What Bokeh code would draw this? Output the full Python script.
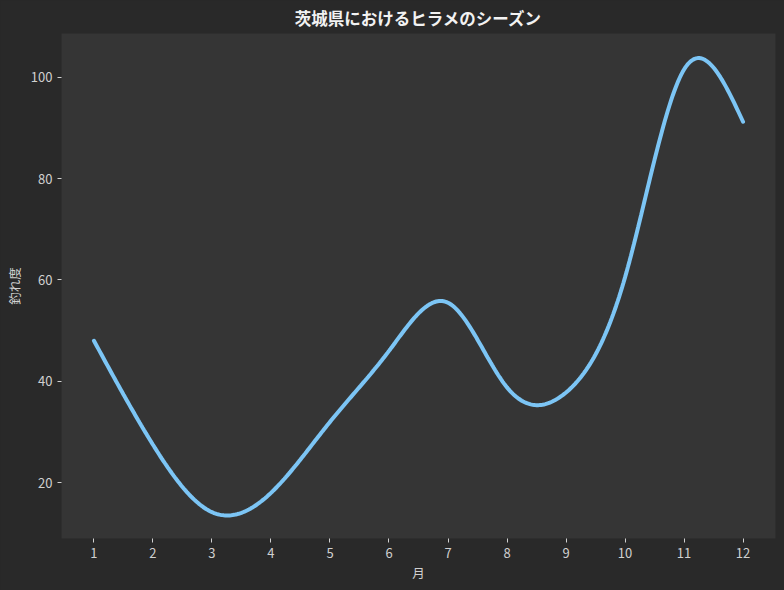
import numpy as np
from bokeh.plotting import figure
from bokeh.models import Range1d, FixedTicker, Title
from bokeh.embed import file_html
from bokeh.resources import INLINE

# ---- data ----
months = [1, 2, 3, 4, 5, 6, 7, 8, 9, 10, 11, 12]
catch_index = [48, 27.5, 14.2, 18, 32, 46, 55.5, 38.8, 37.8, 60.5, 101.5, 91.2]
x_ticks = [1, 2, 3, 4, 5, 6, 7, 8, 9, 10, 11, 12]
y_ticks = [20, 40, 60, 80, 100]
title_text = "茨城県におけるヒラメのシーズン"
x_label = "月"
y_label = "釣れ度"


def smooth_curve(xs, ys, per_seg=40):
    """Natural cubic spline through the data points (rendering only)."""
    x = np.asarray(xs, float)
    y = np.asarray(ys, float)
    n = len(x)
    h = np.diff(x)
    A = np.zeros((n, n))
    b = np.zeros(n)
    A[0, 0] = 1.0
    A[-1, -1] = 1.0
    for i in range(1, n - 1):
        A[i, i - 1] = h[i - 1]
        A[i, i] = 2 * (h[i - 1] + h[i])
        A[i, i + 1] = h[i]
        b[i] = 6 * ((y[i + 1] - y[i]) / h[i] - (y[i] - y[i - 1]) / h[i - 1])
    M = np.linalg.solve(A, b)
    px, py = [], []
    for i in range(n - 1):
        t = np.linspace(0, h[i], per_seg, endpoint=(i == n - 2))
        hi = h[i]
        s = (M[i] * (hi - t) ** 3 / (6 * hi) + M[i + 1] * t ** 3 / (6 * hi)
             + (y[i] / hi - M[i] * hi / 6) * (hi - t)
             + (y[i + 1] / hi - M[i + 1] * hi / 6) * t)
        px.extend(x[i] + t)
        py.extend(s)
    return px, py


cx, cy = smooth_curve(months, catch_index)

BG = "#292929"
PANEL = "#353535"
TXT = "#d0d0d0"
FONT = "Noto Sans CJK JP"

p = figure(width=784, height=590, output_backend="svg", toolbar_location=None,
           x_range=Range1d(0.45, 12.55), y_range=Range1d(9.0, 108.6),
           min_border_left=61, min_border_right=9, min_border_top=0, min_border_bottom=52)

p.title = Title(text=title_text, align="center", text_color="#f2f2f2",
                text_font=FONT, text_font_size="16.5px", text_font_style="bold",
                standoff=7, offset=0)

p.background_fill_color = PANEL
p.border_fill_color = BG
p.outline_line_color = None
p.xgrid.grid_line_color = None
p.ygrid.grid_line_color = None

for ax in (p.xaxis[0], p.yaxis[0]):
    ax.axis_line_color = None
    ax.major_tick_line_color = TXT
    ax.major_tick_line_width = 1
    ax.major_tick_in = 0
    ax.major_tick_out = 4
    ax.minor_tick_line_color = None
    ax.major_label_text_color = TXT
    ax.major_label_text_font = FONT
    ax.major_label_text_font_size = "13px"
    ax.axis_label_text_color = TXT
    ax.axis_label_text_font = FONT
    ax.axis_label_text_font_size = "12.5px"
    ax.axis_label_text_font_style = "normal"

p.xaxis.ticker = FixedTicker(ticks=x_ticks)
p.yaxis.ticker = FixedTicker(ticks=y_ticks)
p.xaxis.axis_label = x_label
p.yaxis.axis_label = y_label
p.xaxis.major_label_standoff = 5
p.xaxis.axis_label_standoff = 2
p.yaxis.major_label_standoff = 5
p.yaxis.axis_label_standoff = 4

p.line(cx, cy, line_color="#7cc5f5", line_width=4, line_cap="round")

html = file_html(p, INLINE)
html = html.replace(
    "<head>",
    "<head><style>html,body{margin:0;padding:0;overflow:hidden;background:%s;}</style>" % BG,
    1)
open("out.html", "w").write(html)
